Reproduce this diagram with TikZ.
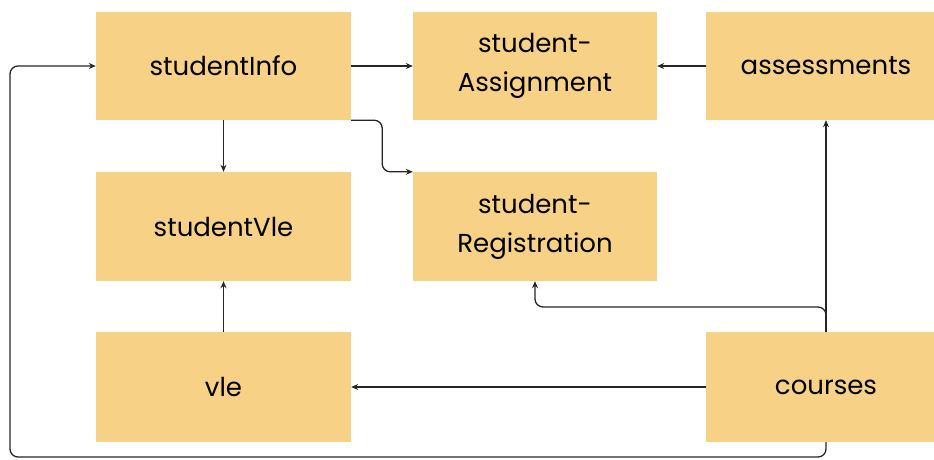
\documentclass[tikz,border=0pt]{standalone}
\usepackage{fontspec}
\setmainfont{Poppins}
\usetikzlibrary{arrows.meta}
\definecolor{boxyellow}{RGB}{246,209,134}

\begin{document}
\begin{tikzpicture}[x=1pt, y=-1pt,
                table/.style={fill=boxyellow, rectangle, minimum width=255pt, minimum height=108pt, align=center, inner sep=0pt,
                              font=\fontsize{26}{39}\selectfont},
                arrow/.style={-{Stealth[length=7pt, width=6pt]}, line width=1.3pt, draw=black!85}]

                \useasboundingbox (0,0) rectangle (934,459);

                \node[table] (studentInfo) at (223.5,66) {studentInfo};
                \node[table, minimum width=244pt] (studentAssignment) at (535,66) {student-\\Assignment};
                \node[table, minimum width=240pt] (assessments) at (826,66) {assessments};

                \node[table, minimum height=109pt] (studentVle) at (223.5,226.5) {studentVle};
                \node[table, minimum width=244pt, minimum height=109pt] (studentRegistration) at (535,226.5) {student-\\Registration};

                \node[table, minimum height=110pt] (vle) at (223.5,387) {vle};
                \node[table, minimum width=240pt, minimum height=110pt] (courses) at (826,387) {courses};

                \coordinate (regKnee) at (535,307);
                \coordinate (loopLow) at (10,457);

                \draw[arrow] (studentInfo) -- (studentAssignment);
                \draw[arrow] (assessments) -- (studentAssignment);
                \draw[arrow] (studentInfo) -- (studentVle);
                \draw[arrow, rounded corners=8pt] (studentInfo.south east) -- ++(31,0) |- (studentRegistration.north west);
                \draw[arrow] (vle) -- (studentVle);
                \draw[arrow] (courses) -- (vle);
                \draw[arrow] (courses) -- (assessments);
                \draw[arrow, rounded corners=8pt] (courses.north) |- (regKnee) -- (studentRegistration.south);
                \draw[arrow, rounded corners=8pt] (courses.south) |- (loopLow) |- (studentInfo.west);
            \end{tikzpicture}
\end{document}
